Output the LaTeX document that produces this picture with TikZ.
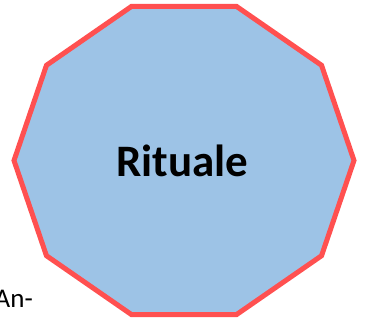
\documentclass[tikz,border=0pt]{standalone}
\usepackage{fontspec}
\setmainfont{Carlito}
\usetikzlibrary{calc}
\definecolor{decafill}{HTML}{9DC3E6}
\definecolor{decaline}{HTML}{FF5050}
\tikzset{
  deca/.style={fill=decafill,draw=decaline,line width=5pt,line join=miter},
  decalabel/.style={font=\bfseries\fontsize{45}{54}\selectfont,text=black},
  sidetext/.style={font=\fontsize{27}{32}\selectfont,text=black,inner sep=0pt}
}

\begin{document}
\begin{tikzpicture}[x=1pt,y=1pt]
  \def\rx{170}                  % horizontal radius
  \def\ry{162}                  % vertical radius
  \useasboundingbox (0,0) rectangle (366,322);
  \coordinate (C)  at (184,161.5);
  \coordinate (AT) at (33,15);

  % DECAGON
  \draw[deca,shift={(C)}] ({\rx},0)
    \foreach \i in {1,...,9}{ -- ({\rx*cos(\i*36)},{\ry*sin(\i*36)})} -- cycle;

  % TEXT
  \node[decalabel] (rituale) at ([xshift=-1.5pt]C) {Rituale};
  \node[sidetext,anchor=base east] (an) at (AT) {An-};
\end{tikzpicture}
\end{document}
